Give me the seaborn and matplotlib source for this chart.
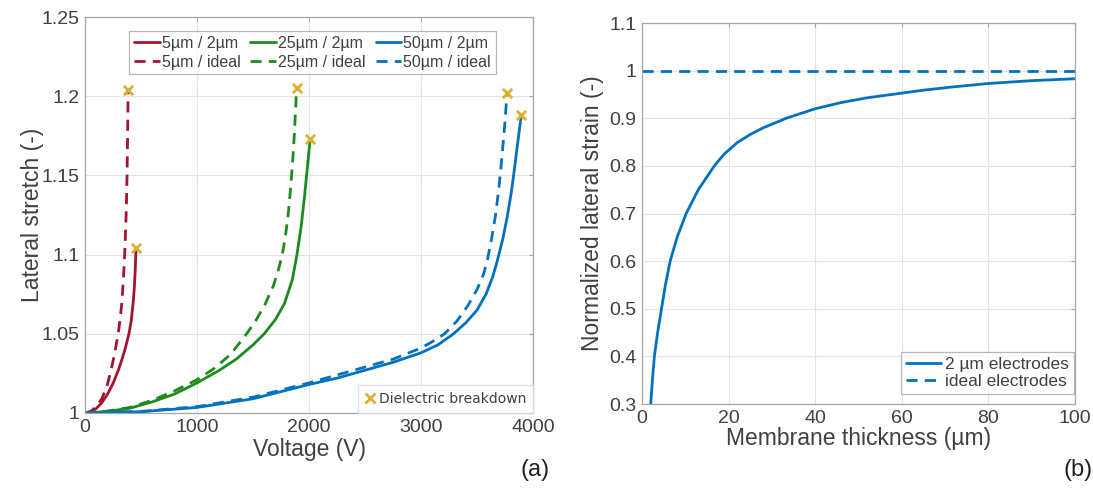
import numpy as np
import pandas as pd
import matplotlib
matplotlib.use("Agg")
import matplotlib.pyplot as plt
import seaborn as sns
from matplotlib.lines import Line2D

sns.set_style("whitegrid")
plt.rcParams["font.family"] = ["Liberation Sans", "DejaVu Sans"]

# ---- panel (a): lateral stretch vs voltage ----
v_5_2 = [0, 50, 100, 150, 200, 250, 300, 330, 360, 392, 412, 430, 440, 448, 455]
s_5_2 = [1, 1.0007, 1.0028, 1.0065, 1.0118, 1.0187, 1.0275, 1.034, 1.041, 1.05, 1.058, 1.07,
         1.079, 1.09, 1.104]
v_5_id = [0, 50, 100, 150, 200, 232, 260, 296, 315, 330, 343, 354, 362, 369, 375, 380, 385]
s_5_id = [1, 1.001, 1.004, 1.009, 1.018, 1.027, 1.036, 1.05, 1.06, 1.071, 1.085, 1.1, 1.115,
          1.13, 1.15, 1.175, 1.204]

v_25_2 = [0, 200, 400, 600, 800, 1000, 1200, 1350, 1500, 1600, 1700, 1780, 1850, 1890, 1930,
          1960, 1985, 2010]
s_25_2 = [1, 1.001, 1.003, 1.007, 1.012, 1.019, 1.027, 1.034, 1.043, 1.05, 1.059, 1.069, 1.084,
          1.099, 1.118, 1.137, 1.155, 1.173]
v_25_id = [0, 200, 400, 600, 800, 1000, 1150, 1300, 1443, 1530, 1610, 1680, 1725, 1761, 1790,
           1815, 1835, 1855, 1872, 1889]
s_25_id = [1, 1.0012, 1.0035, 1.008, 1.014, 1.021, 1.028, 1.037, 1.05, 1.059, 1.069, 1.08, 1.09,
           1.1, 1.112, 1.126, 1.142, 1.16, 1.18, 1.205]

v_50_2 = [0, 500, 1000, 1500, 2000, 2250, 2500, 2750, 3000, 3150, 3290, 3400, 3500, 3580, 3640,
          3688, 3730, 3770, 3805, 3832, 3860, 3895]
s_50_2 = [1, 1.0008, 1.0035, 1.009, 1.018, 1.022, 1.027, 1.032, 1.038, 1.043, 1.05, 1.057, 1.065,
          1.075, 1.086, 1.098, 1.11, 1.124, 1.139, 1.153, 1.169, 1.188]
v_50_id = [0, 500, 1000, 1500, 2000, 2250, 2500, 2750, 3000, 3100, 3210, 3320, 3420, 3500, 3560,
           3593, 3630, 3665, 3695, 3720, 3745, 3768]
s_50_id = [1, 1.001, 1.004, 1.01, 1.019, 1.024, 1.029, 1.034, 1.041, 1.045, 1.05, 1.058, 1.068,
           1.078, 1.088, 1.097, 1.11, 1.125, 1.142, 1.16, 1.18, 1.202]

labels_a = ["5µm / 2µm", "5µm / ideal", "25µm / 2µm", "25µm / ideal", "50µm / 2µm", "50µm / ideal"]

# ---- panel (b): normalized strain vs thickness ----
t_2um = [2, 2.4, 2.85, 3.6, 4.5, 5.4, 6.5, 8.1, 10.2, 13, 16.7, 19, 22, 25, 28, 33.3, 40, 46,
         52, 57.7, 65, 72, 80, 90, 100]
e_2um = [0.3, 0.35, 0.4, 0.45, 0.5, 0.55, 0.6, 0.65, 0.7, 0.75, 0.8, 0.825, 0.849, 0.866, 0.88,
         0.9, 0.92, 0.933, 0.943, 0.95, 0.959, 0.966, 0.973, 0.979, 0.983]
t_ideal = [0, 100]
e_ideal = [1, 1]

RED = "#a2142f"
GREEN = "#1f8a1f"
BLUE = "#0072bd"
GOLD = "#d9b030"
DASH = (4, 2.6)
TXT = "#404040"

fig = plt.figure(figsize=(10.93, 4.93), dpi=100)
ax1 = fig.add_axes([0.0778, 0.1623, 0.4099, 0.8032])
ax2 = fig.add_axes([0.5874, 0.1805, 0.3961, 0.7728])


def style_axes(ax):
    ax.grid(True, color="#e3e3e3", linewidth=0.8)
    for sp in ax.spines.values():
        sp.set_color("#a6a6a6")
        sp.set_linewidth(0.9)
    ax.tick_params(direction="in", length=3, color="#a6a6a6", labelsize=14,
                   labelcolor=TXT, top=True, right=True, pad=4)


series = [
    (v_5_2, s_5_2, RED, "-"), (v_5_id, s_5_id, RED, "--"),
    (v_25_2, s_25_2, GREEN, "-"), (v_25_id, s_25_id, GREEN, "--"),
    (v_50_2, s_50_2, BLUE, "-"), (v_50_id, s_50_id, BLUE, "--"),
]
handles = []
for (vx, sy, col, ls), lab in zip(series, labels_a):
    kw = dict(dashes=DASH) if ls == "--" else {}
    sns.lineplot(x=vx, y=sy, ax=ax1, color=col, linewidth=2, sort=False, estimator=None, **kw)
    handles.append(Line2D([], [], color=col, linewidth=2, linestyle=ls,
                          **({"dashes": DASH} if ls == "--" else {})))

# breakdown markers at the end of each curve
end_v = [s[0][-1] for s in series]
end_s = [s[1][-1] for s in series]
ax1.scatter(end_v, end_s, marker="x", s=45, color=GOLD, linewidths=2, zorder=5)

style_axes(ax1)
ax1.set_xlim(0, 4000)
ax1.set_ylim(1, 1.25)
ax1.set_xticks([0, 1000, 2000, 3000, 4000])
ax1.set_yticks([1, 1.05, 1.1, 1.15, 1.2, 1.25])
ax1.set_yticklabels(["1", "1.05", "1.1", "1.15", "1.2", "1.25"])
ax1.set_xlabel("Voltage (V)", fontsize=16.5, color=TXT, labelpad=2)
ax1.set_ylabel("Lateral stretch (-)", fontsize=16.5, color=TXT, labelpad=-2)

leg1 = ax1.legend(handles, labels_a, ncol=3, loc="upper center",
                  bbox_to_anchor=(0.508, 0.965), fontsize=11.5, frameon=True, fancybox=False,
                  edgecolor="#a6a6a6", handlelength=1.6, handletextpad=0.15, columnspacing=0.6,
                  labelspacing=0.25, borderpad=0.3, borderaxespad=0)
leg1.get_frame().set_linewidth(0.9)
for t in leg1.get_texts():
    t.set_color(TXT)
ax1.add_artist(leg1)

bd = Line2D([], [], marker="x", color=GOLD, linestyle="none", markersize=7, markeredgewidth=2)
leg_bd = ax1.legend([bd], ["Dielectric breakdown"], loc="lower right",
                    prop={"family": "DejaVu Sans", "size": 10}, frameon=True, fancybox=False,
                    edgecolor="#dddddd", handlelength=0.8, handletextpad=0.2, borderpad=0.5,
                    borderaxespad=0.0)
leg_bd.get_texts()[0].set_color(TXT)

# ---- panel (b) ----
sns.lineplot(x=t_2um, y=e_2um, ax=ax2, color=BLUE, linewidth=2, sort=False, estimator=None)
sns.lineplot(x=t_ideal, y=e_ideal, ax=ax2, color=BLUE, linewidth=2, dashes=DASH,
             sort=False, estimator=None)
style_axes(ax2)
ax2.set_xlim(0, 100)
ax2.set_ylim(0.3, 1.1)
ax2.set_xticks([0, 20, 40, 60, 80, 100])
ax2.set_yticks([0.3, 0.4, 0.5, 0.6, 0.7, 0.8, 0.9, 1.0, 1.1])
ax2.set_yticklabels(["0.3", "0.4", "0.5", "0.6", "0.7", "0.8", "0.9", "1", "1.1"])
ax2.set_xlabel("Membrane thickness (µm)", fontsize=16.5, color=TXT, labelpad=0)
ax2.set_ylabel("Normalized lateral strain (-)", fontsize=16.5, color=TXT, labelpad=4)
h2 = [Line2D([], [], color=BLUE, linewidth=2),
      Line2D([], [], color=BLUE, linewidth=2, dashes=DASH)]
leg2 = ax2.legend(h2, ["2 µm electrodes", "ideal electrodes"], loc="lower right",
                  bbox_to_anchor=(0.997, 0.025), fontsize=12.5, frameon=True, fancybox=False,
                  edgecolor="#a6a6a6", handlelength=2.0, handletextpad=0.2, labelspacing=0.1,
                  borderpad=0.3, borderaxespad=0)
leg2.get_frame().set_linewidth(0.9)
for t in leg2.get_texts():
    t.set_color(TXT)

fig.text(535 / 1093, 1 - 470 / 493, "(a)", fontsize=17, ha="center", va="center", color="#222222")
fig.text(1078 / 1093, 1 - 470 / 493, "(b)", fontsize=17, ha="center", va="center", color="#222222")

fig.savefig("out.png", dpi=100, facecolor="white")
